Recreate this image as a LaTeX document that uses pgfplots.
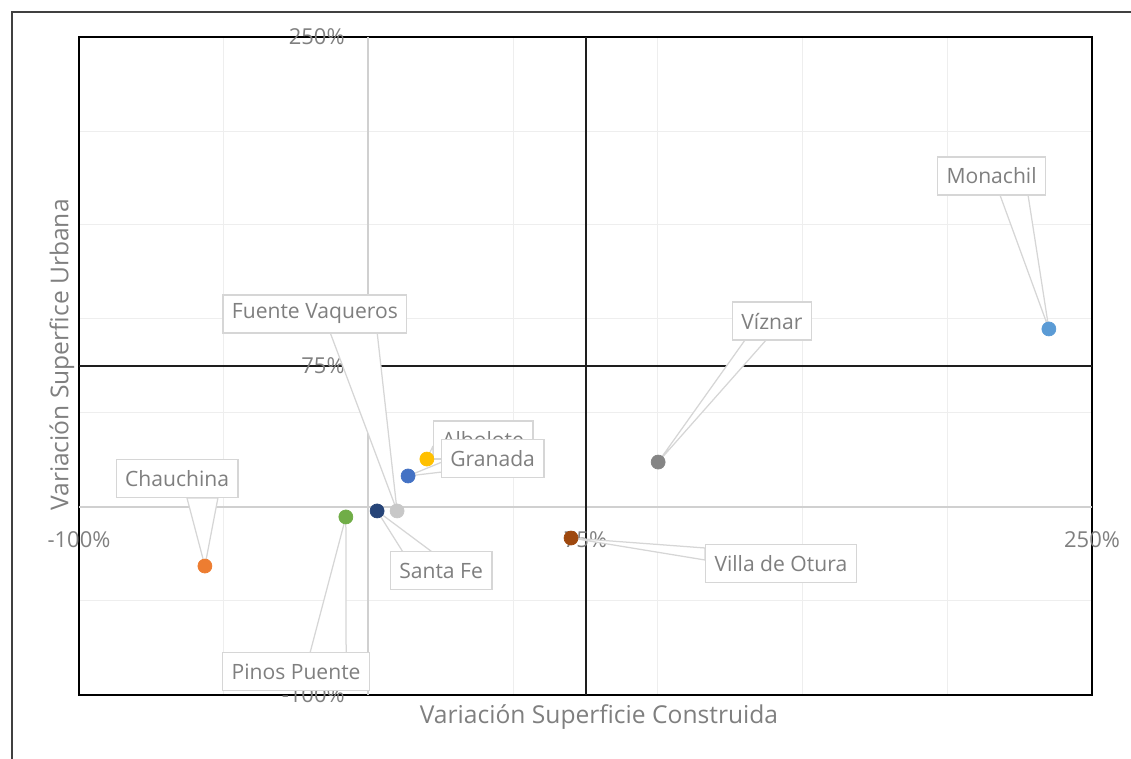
\documentclass[border=0pt]{standalone}
\usepackage{fontspec}
\setmainfont{Open Sans}
\usepackage{pgfplots}
\pgfplotsset{compat=1.18}

\definecolor{txt}{HTML}{7F7F7F}
\definecolor{boxgray}{HTML}{D6D6D6}
\definecolor{gridc}{HTML}{EEEEEE}
\definecolor{axisgray}{HTML}{D0D0D0}
\definecolor{quad}{HTML}{1E1E1E}
\definecolor{cMonachil}{HTML}{5B9BD5}
\definecolor{cViznar}{HTML}{858585}
\definecolor{cOtura}{HTML}{9E480E}
\definecolor{cChauchina}{HTML}{ED7D31}
\definecolor{cPinos}{HTML}{70AD47}
\definecolor{cSantaFe}{HTML}{264478}
\definecolor{cFuente}{HTML}{C8C8C8}
\definecolor{cAlbolote}{HTML}{FFC000}
\definecolor{cGranada}{HTML}{4472C4}

% label, box centre (x,y), pointer base 1, pointer base 2, point
\newcommand{\callout}[9]{%
  \filldraw[fill=white, draw=boxgray, line width=0.25mm, line join=round]
    (axis cs:#4,#5) -- (axis cs:#8,#9) -- (axis cs:#6,#7) -- cycle;
  \node[draw=boxgray, fill=white, line width=0.25mm, text=txt,
        font=\fontsize{12}{14}\selectfont, inner xsep=1.8mm,
        minimum height=7.6mm] at (axis cs:#2,#3) {#1};
}

\begin{document}
\begin{tikzpicture}
\useasboundingbox (0,0) rectangle (226.2mm,151.8mm);
% outer frame (top and left edges visible)
\draw[color=black!75, line width=0.3mm] (2.4mm,0) -- (2.4mm,149.4mm) -- (226.2mm,149.4mm);

\begin{axis}[
  at={(15.8mm,12.8mm)}, anchor=south west,
  width=202.6mm, height=131.6mm, scale only axis,
  xmin=-100, xmax=250, ymin=-100, ymax=250,
  xtick={-50,0,50,100,150,200}, ytick={-50,0,50,100,150,200},
  xticklabels={}, yticklabels={},
  major tick length=0,
  grid=major, grid style={gridc, line width=0.2mm},
  axis line style={black, line width=0.4mm},
  clip=false,
]
  % axis lines through zero
  \draw[axisgray, line width=0.4mm] (axis cs:0,-100) -- (axis cs:0,250);
  \draw[axisgray, line width=0.4mm] (axis cs:-100,0) -- (axis cs:250,0);
  % quadrant lines at 75%
  \draw[quad, line width=0.4mm] (axis cs:75,-100) -- (axis cs:75,250);
  \draw[quad, line width=0.4mm] (axis cs:-100,75) -- (axis cs:250,75);

  % tick labels
  \begin{scope}[every node/.style={text=txt, font=\fontsize{12.5}{14}\selectfont, inner sep=0pt}]
    \node at (axis cs:-100,-17.6) {-100\%};
    \node at (axis cs:75,-17.6) {75\%};
    \node at (axis cs:250,-17.6) {250\%};
    \node[anchor=east] at (axis cs:-8.1,250) {250\%};
    \node[anchor=east] at (axis cs:-8.1,75) {75\%};
    \node[anchor=east] at (axis cs:-8.1,-100) {-100\%};
  \end{scope}

  % data points
  \addplot[only marks, mark=*, mark size=1.4mm, color=cMonachil] coordinates {(235.1,94.7)};
  \addplot[only marks, mark=*, mark size=1.4mm, color=cViznar] coordinates {(100.1,23.9)};
  \addplot[only marks, mark=*, mark size=1.4mm, color=cOtura] coordinates {(70.0,-16.5)};
  \addplot[only marks, mark=*, mark size=1.4mm, color=cChauchina] coordinates {(-56.5,-31.4)};
  \addplot[only marks, mark=*, mark size=1.4mm, color=cPinos] coordinates {(-7.8,-5.3)};
  \addplot[only marks, mark=*, mark size=1.4mm, color=cSantaFe] coordinates {(3.0,-2.1)};
  \addplot[only marks, mark=*, mark size=1.4mm, color=cFuente] coordinates {(9.9,-2.1)};
  \addplot[only marks, mark=*, mark size=1.4mm, color=cAlbolote] coordinates {(20.2,25.5)};
  \addplot[only marks, mark=*, mark size=1.4mm, color=cGranada] coordinates {(13.7,16.5)};

  % data labels with callout pointers
  \callout{Monachil}{215.3}{176.1}{218.2}{166.0}{227.9}{166.0}{235.1}{94.7}
  \callout{Víznar}{139.4}{98.9}{130.1}{88.8}{137.4}{88.8}{100.1}{23.9}
  \callout{Fuente Vaqueros}{-18.5}{102.7}{-13.3}{93.1}{3.0}{93.1}{9.9}{-2.1}
  \callout{Albolote}{39.6}{35.6}{22.3}{32.4}{22.3}{27.1}{20.2}{25.5}
  \callout{Granada}{42.9}{25.8}{25.4}{23.9}{25.4}{18.6}{13.7}{16.5}
  \callout{Chauchina}{-66.1}{15.2}{-62.7}{4.8}{-52.0}{4.8}{-56.5}{-31.4}
  \callout{Pinos Puente}{-25.0}{-87.5}{-20.2}{-77.7}{-7.7}{-77.7}{-7.8}{-5.3}
  \callout{Santa Fe}{25.1}{-33.8}{11.9}{-23.9}{22.0}{-23.9}{3.0}{-2.1}
  \callout{Villa de Otura}{142.5}{-30.1}{116.3}{-21.8}{116.3}{-28.2}{70.0}{-16.5}
\end{axis}

% axis titles
\node[text=txt, font=\fontsize{14}{16}\selectfont] at (119.8mm,8.4mm) {Variación Superficie Construida};
\node[text=txt, font=\fontsize{14}{16}\selectfont, rotate=90] at (12.4mm,80.8mm) {Variación Superfice Urbana};
\end{tikzpicture}
\end{document}
